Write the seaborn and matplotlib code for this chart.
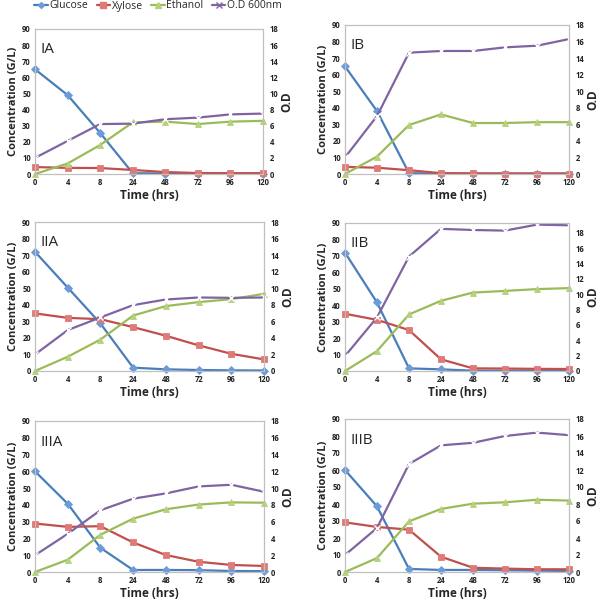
import numpy as np
import pandas as pd
import matplotlib
matplotlib.use("Agg")
import matplotlib.pyplot as plt
import seaborn as sns
from matplotlib.lines import Line2D

sns.set_theme(style="white")
plt.rcParams['font.family'] = ['Open Sans', 'DejaVu Sans']

time_labels = ["0", "4", "8", "24", "48", "72", "96", "120"]
panels = ["IA", "IB", "IIA", "IIB", "IIIA", "IIIB"]

glucose = {
    "IA":   [65, 49, 25.5, 0.5, 0.3, 0.2, 0.2, 0.2],
    "IB":   [65, 38, 0.5, 0.3, 0.2, 0.2, 0.2, 0.2],
    "IIA":  [72, 50.4, 28.7, 2.0, 1.0, 0.6, 0.4, 0.3],
    "IIB":  [72, 41.7, 1.6, 1.0, 0.2, 0.2, 0.2, 0.2],
    "IIIA": [60, 40.7, 14.4, 1.2, 1.2, 1.1, 0.6, 0.5],
    "IIIB": [60, 38.6, 1.8, 1.2, 1.2, 1.0, 0.8, 0.6],
}
xylose = {
    "IA":   [4.3, 3.8, 3.7, 2.5, 1.2, 0.6, 0.5, 0.5],
    "IB":   [4.3, 3.8, 2.3, 0.5, 0.4, 0.3, 0.3, 0.3],
    "IIA":  [34.8, 32.1, 31.3, 26.5, 21.3, 15.5, 10.4, 7.0],
    "IIB":  [34.8, 31.1, 24.9, 7.1, 1.6, 1.5, 1.3, 1.2],
    "IIIA": [28.9, 26.9, 27.3, 17.6, 10.1, 6.1, 4.2, 3.6],
    "IIIB": [29.2, 26.5, 24.9, 9.0, 2.5, 2.0, 1.6, 1.6],
}
ethanol = {
    "IA":   [0, 6.5, 18, 32, 32.5, 31, 32.5, 33],
    "IB":   [0, 10.5, 29.6, 36, 30.8, 30.8, 31.3, 31.3],
    "IIA":  [0, 8.6, 19, 33.5, 39.2, 41.6, 43.4, 46.6],
    "IIB":  [0, 12.1, 34.4, 42.7, 47.7, 48.7, 49.8, 50.4],
    "IIIA": [0, 7.3, 22.2, 31.8, 37.4, 40.2, 41.5, 41.3],
    "IIIB": [0, 8.2, 29.8, 37.1, 40.2, 41.0, 42.5, 42.0],
}
od600 = {
    "IA":   [2.0, 4.1, 6.2, 6.25, 6.8, 7.0, 7.4, 7.5],
    "IB":   [2.0, 7.0, 14.66, 14.86, 14.86, 15.3, 15.5, 16.3],
    "IIA":  [2.0, 4.94, 6.47, 7.96, 8.64, 8.88, 8.84, 8.88],
    "IIB":  [1.95, 6.97, 14.9, 18.5, 18.35, 18.27, 19.05, 18.96],
    "IIIA": [2.0, 4.55, 7.36, 8.74, 9.37, 10.2, 10.4, 9.57],
    "IIIB": [2.0, 5.18, 12.7, 14.9, 15.2, 16.0, 16.4, 16.1],
}
od_max = {"IA": 18, "IB": 18, "IIA": 18, "IIB": 19.26, "IIIA": 18, "IIIB": 18}

colors = {"Glucose": "#4A7EBB", "Xylose": "#C0504D", "Ethanol": "#9BBB59", "O.D 600nm": "#8064A2"}
faces = {"Glucose": "#6B9BD8", "Xylose": "#E07A77", "Ethanol": "#B3D27A", "O.D 600nm": "#8064A2"}
markers = {"Glucose": "D", "Xylose": "s", "Ethanol": "^", "O.D 600nm": "x"}
msizes = {"Glucose": 4, "Xylose": 5, "Ethanol": 5, "O.D 600nm": 5}

W, H = 600, 605
fig = plt.figure(figsize=(6.0, 6.05), dpi=100)

# pixel boxes: left, right, top, bottom
boxes = {
    "IA":   (35, 263, 29, 174),
    "IB":   (345, 569, 25, 174),
    "IIA":  (35, 264, 222, 371),
    "IIB":  (345, 569, 223, 371),
    "IIIA": (35, 264, 421, 572),
    "IIIB": (345, 569, 419, 572),
}

idx = np.arange(len(time_labels))
tick_kw = dict(fontsize=5.5, fontweight='bold', color='#222222')

for p in panels:
    l, r, t, b = boxes[p]
    ax = fig.add_axes([l / W, 1 - b / H, (r - l) / W, (b - t) / H])
    ax2 = ax.twinx()
    df = pd.DataFrame({"t": idx, "Glucose": glucose[p], "Xylose": xylose[p], "Ethanol": ethanol[p]})
    long = df.melt(id_vars="t", var_name="series", value_name="val")
    for s in ["Glucose", "Xylose", "Ethanol"]:
        sub = long[long.series == s]
        sns.lineplot(data=sub, x="t", y="val", ax=ax, color=colors[s], lw=1.6,
                     marker=markers[s], markersize=msizes[s], markerfacecolor=faces[s],
                     markeredgecolor=faces[s], markeredgewidth=0.6, legend=False,
                     clip_on=False)
    dfo = pd.DataFrame({"t": idx, "od": od600[p]})
    sns.lineplot(data=dfo, x="t", y="od", ax=ax2, color=colors["O.D 600nm"], lw=1.6,
                 marker="x", markersize=5, markeredgewidth=1.0, legend=False, clip_on=False)
    ax.set_xlim(0, 7)
    ax.set_ylim(0, 90)
    ax2.set_ylim(0, od_max[p])
    ax.set_yticks(np.arange(0, 91, 10))
    ax2.set_yticks(np.arange(0, 19, 2))
    ax.set_xticks(idx)
    ax.set_xticklabels(time_labels, **tick_kw)
    ax.set_yticklabels([str(v) for v in range(0, 91, 10)], **tick_kw)
    ax2.set_yticklabels([str(v) for v in range(0, 19, 2)], **tick_kw)
    ax.tick_params(axis='both', length=0, pad=3)
    ax2.tick_params(axis='y', length=0, pad=5)
    for a in (ax, ax2):
        for sp in a.spines.values():
            sp.set_color('#BFBFBF')
            sp.set_linewidth(0.8)
    ax.set_xlabel("Time (hrs)", fontsize=8.5, fontweight='bold', labelpad=1)
    ax.set_ylabel("Concentration (G/L)", fontsize=8, fontweight='bold', labelpad=2)
    ax2.set_ylabel("O.D", fontsize=8.5, fontweight='bold', labelpad=1)
    ax.text(0.025, 0.86, p, transform=ax.transAxes, fontsize=11, va='center', ha='left')
    ax2.set_zorder(ax.get_zorder() + 1)
    ax2.patch.set_visible(False)

handles = []
for s in ["Glucose", "Xylose", "Ethanol", "O.D 600nm"]:
    handles.append(Line2D([0], [0], color=colors[s], lw=1.6, marker=markers[s],
                          markersize=msizes[s] - 1, markerfacecolor=faces[s],
                          markeredgecolor=faces[s] if s != "O.D 600nm" else colors[s]))
fig.legend(handles=handles, labels=["Glucose", "Xylose", "Ethanol", "O.D 600nm"],
           loc='center', bbox_to_anchor=(158 / W, 1 - 6 / H), ncol=4, frameon=False,
           fontsize=7.5, handlelength=1.3, handletextpad=0.15, columnspacing=0.8,
           borderpad=0.1)

fig.savefig("out.png", dpi=100)
